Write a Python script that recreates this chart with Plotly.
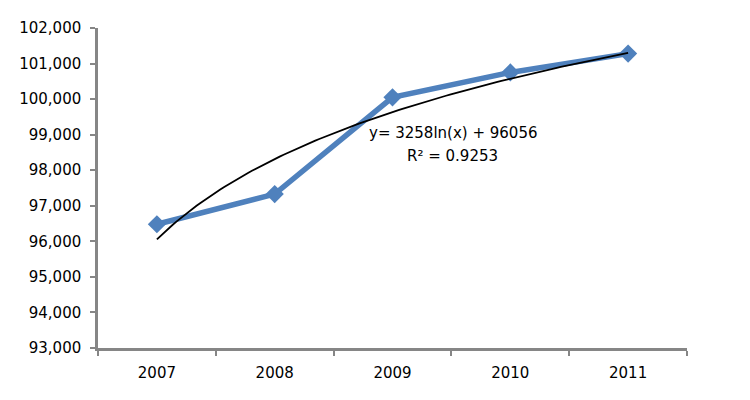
import numpy as np
import plotly.graph_objects as go

years = ["2007", "2008", "2009", "2010", "2011"]
values = [96480, 97330, 100050, 100750, 101280]

# logarithmic trendline as shown on the chart: y = a*ln(x) + b
trend_a = 3258
trend_b = 96056
trend_eq = "y= 3258ln(x) + 96056"
trend_r2 = "R² = 0.9253"

y_ticks = list(range(93000, 102001, 1000))

x_pos = list(range(1, len(years) + 1))
x_fine = np.linspace(1, len(years), 120)
y_fine = trend_a * np.log(x_fine) + trend_b

font = dict(family="DejaVu Sans, Verdana, sans-serif", size=15, color="#000000")
axis_grey = "#868686"

fig = go.Figure()
fig.add_trace(go.Scatter(
    x=x_pos,
    y=values,
    mode="lines+markers",
    line=dict(color="#4F81BD", width=5.5),
    marker=dict(symbol="diamond", size=14, color="#4F81BD"),
    showlegend=False,
))
fig.add_trace(go.Scatter(
    x=x_fine,
    y=y_fine,
    mode="lines",
    line=dict(color="#000000", width=1.8),
    showlegend=False,
))

# trendline label, two lines placed separately to match the spacing
fig.add_annotation(x=3.51, y=99040, xref="x", yref="y",
                   text=trend_eq, showarrow=False, font=font)
fig.add_annotation(x=3.51, y=98400, xref="x", yref="y",
                   text=trend_r2, showarrow=False, font=font)

# the page body adds an 8px offset, so margins are trimmed to keep the plot in place
fig.update_layout(
    width=750,
    height=400,
    margin=dict(l=89, r=71, t=11, b=60),
    plot_bgcolor="#ffffff",
    paper_bgcolor="#ffffff",
    font=font,
    xaxis=dict(
        range=[0.5, len(years) + 0.5],
        tickvals=x_pos,
        ticktext=years,
        ticks="",
        showgrid=False,
        zeroline=False,
        showline=True,
        linecolor=axis_grey,
        linewidth=2.5,
        tickfont=font,
        ticklabelstandoff=9,
        minor=dict(
            tickvals=[p + 0.5 for p in [0] + x_pos],
            ticks="outside",
            ticklen=5,
            tickcolor=axis_grey,
            tickwidth=2,
            showgrid=False,
        ),
    ),
    yaxis=dict(
        range=[93000, 102000],
        tickvals=y_ticks,
        tickformat=",d",
        ticks="outside",
        ticklen=5,
        tickcolor=axis_grey,
        tickwidth=2,
        showgrid=False,
        zeroline=False,
        showline=True,
        linecolor=axis_grey,
        linewidth=2.5,
        tickfont=font,
        ticklabelstandoff=6,
    ),
)

fig.write_html("out.html")
